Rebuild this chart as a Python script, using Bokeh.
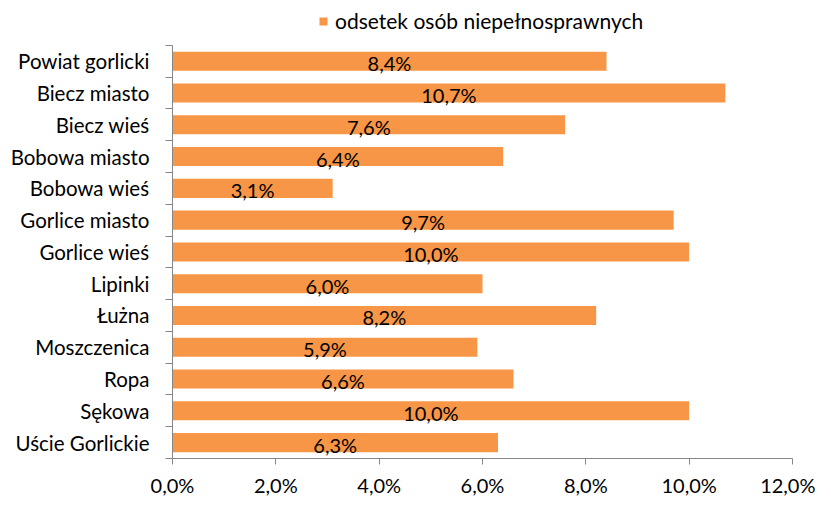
from bokeh.plotting import figure
from bokeh.models import (Range1d, FixedTicker, CustomJSTickFormatter, ColumnDataSource,
                          Legend, LegendItem)
from bokeh.core.properties import value
from bokeh.embed import file_html
from bokeh.resources import INLINE

categories = ["Powiat gorlicki", "Biecz miasto", "Biecz wieś", "Bobowa miasto",
              "Bobowa wieś", "Gorlice miasto", "Gorlice wieś", "Lipinki", "Łużna",
              "Moszczenica", "Ropa", "Sękowa", "Uście Gorlickie"]
values = [8.4, 10.7, 7.6, 6.4, 3.1, 9.7, 10.0, 6.0, 8.2, 5.9, 6.6, 10.0, 6.3]
series_name = "odsetek osób niepełnosprawnych"
x_ticks = [0, 2, 4, 6, 8, 10, 12]

FONT = "Lato"
FS = "20px"
ORANGE = "#F79646"
GRAY = "#868686"

n = len(categories)
src = ColumnDataSource(dict(
    y=list(range(n)),
    v=values,
    mid=[v / 2 for v in values],
    lab=[f"{v:.1f}".replace(".", ",") + "%" for v in values],
))

# extra room at the top of the frame holds the legend
p = figure(width=815, height=499, output_backend="svg", toolbar_location=None,
           x_range=Range1d(0, 12), y_range=Range1d(n - 0.5, -1.753),
           min_border_left=172, min_border_right=23, min_border_top=5,
           min_border_bottom=39)
p.outline_line_color = None
p.xgrid.visible = False
p.ygrid.visible = False
p.background_fill_color = "white"

bars = p.hbar(y="y", left=0, right="v", height=0.6, source=src,
              fill_color=ORANGE, line_color=None)
p.text(x="mid", y="y", text="lab", source=src, text_align="center",
       text_baseline="middle", text_font=value(FONT), text_font_size=FS,
       text_color="black", y_offset=2)

# x axis
xa = p.xaxis[0]
xa.ticker = FixedTicker(ticks=x_ticks)
xa.formatter = CustomJSTickFormatter(code="return tick.toFixed(1).replace('.', ',') + '%';")
xa.axis_line_color = GRAY
xa.major_tick_line_color = GRAY
xa.major_tick_out = 6
xa.major_tick_in = 0
xa.minor_tick_line_color = None
xa.major_label_text_font = FONT
xa.major_label_text_font_size = FS
xa.major_label_text_color = "black"
xa.major_label_standoff = 8

# y axis
ya = p.yaxis[0]
ya.bounds = (-0.5, n - 0.5)
ya.ticker = FixedTicker(ticks=list(range(n)),
                        minor_ticks=[i - 0.5 for i in range(n + 1)])
ya.formatter = CustomJSTickFormatter(args=dict(labels=categories),
                                     code="const i = Math.round(tick); return (i >= 0 && i < labels.length) ? labels[i] : '';")
ya.axis_line_color = GRAY
ya.major_tick_line_color = None
ya.major_tick_out = 0
ya.major_tick_in = 0
ya.minor_tick_line_color = GRAY
ya.minor_tick_out = 7
ya.minor_tick_in = 0
ya.major_label_text_font = FONT
ya.major_label_text_font_size = "20.5px"
ya.major_label_text_color = "black"
ya.major_label_standoff = 16

legend = Legend(items=[LegendItem(label=series_name, renderers=[bars])],
                location=(146, 425), orientation="horizontal",
                glyph_width=10, glyph_height=10, label_standoff=7,
                padding=0, margin=0, border_line_color=None,
                background_fill_alpha=0,
                label_text_font=FONT, label_text_font_size="21px",
                label_text_color="black")
p.add_layout(legend)

open("out.html", "w").write(file_html(p, INLINE))
